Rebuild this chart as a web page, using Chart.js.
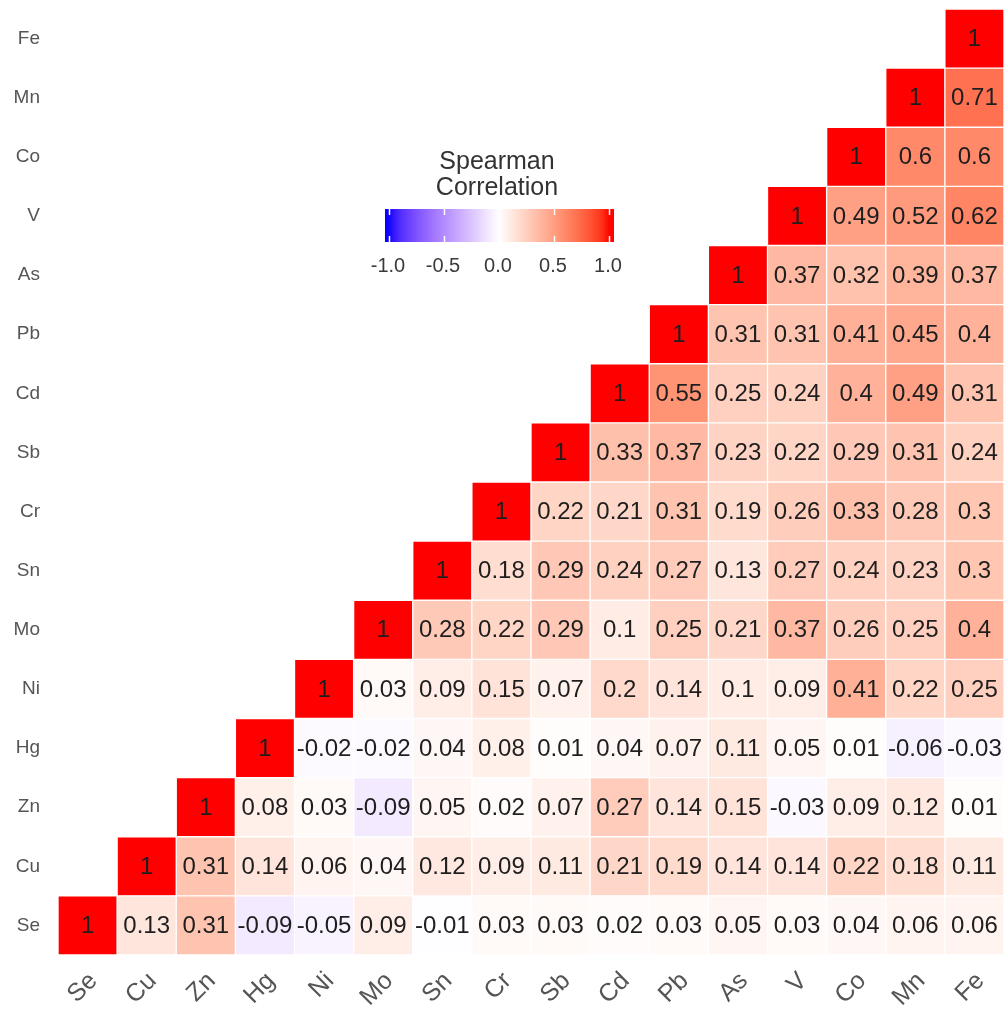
<!DOCTYPE html>
<html>
<head>
<meta charset="utf-8">
<script src="https://cdn.jsdelivr.net/npm/chart.js@4.4.1/dist/chart.umd.min.js"></script>
<style>
  html, body { margin: 0; padding: 0; background: #ffffff; }
  #wrap { width: 1008px; height: 1017px; }
</style>
</head>
<body>
<div id="wrap"><canvas id="c" width="1008" height="1017"></canvas></div>
<script>
// Element order (x axis left->right, y axis bottom->top)
const elements = ['Se','Cu','Zn','Hg','Ni','Mo','Sn','Cr','Sb','Cd','Pb','As','V','Co','Mn','Fe'];

// Spearman correlations, each row starts at its diagonal column
const rowSe = [1, 0.13, 0.31, -0.09, -0.05, 0.09, -0.01, 0.03, 0.03, 0.02, 0.03, 0.05, 0.03, 0.04, 0.06, 0.06];
const rowCu = [1, 0.31, 0.14, 0.06, 0.04, 0.12, 0.09, 0.11, 0.21, 0.19, 0.14, 0.14, 0.22, 0.18, 0.11];
const rowZn = [1, 0.08, 0.03, -0.09, 0.05, 0.02, 0.07, 0.27, 0.14, 0.15, -0.03, 0.09, 0.12, 0.01];
const rowHg = [1, -0.02, -0.02, 0.04, 0.08, 0.01, 0.04, 0.07, 0.11, 0.05, 0.01, -0.06, -0.03];
const rowNi = [1, 0.03, 0.09, 0.15, 0.07, 0.2, 0.14, 0.1, 0.09, 0.41, 0.22, 0.25];
const rowMo = [1, 0.28, 0.22, 0.29, 0.1, 0.25, 0.21, 0.37, 0.26, 0.25, 0.4];
const rowSn = [1, 0.18, 0.29, 0.24, 0.27, 0.13, 0.27, 0.24, 0.23, 0.3];
const rowCr = [1, 0.22, 0.21, 0.31, 0.19, 0.26, 0.33, 0.28, 0.3];
const rowSb = [1, 0.33, 0.37, 0.23, 0.22, 0.29, 0.31, 0.24];
const rowCd = [1, 0.55, 0.25, 0.24, 0.4, 0.49, 0.31];
const rowPb = [1, 0.31, 0.31, 0.41, 0.45, 0.4];
const rowAs = [1, 0.37, 0.32, 0.39, 0.37];
const rowV  = [1, 0.49, 0.52, 0.62];
const rowCo = [1, 0.6, 0.6];
const rowMn = [1, 0.71];
const rowFe = [1];

const rows = [rowSe, rowCu, rowZn, rowHg, rowNi, rowMo, rowSn, rowCr, rowSb, rowCd, rowPb, rowAs, rowV, rowCo, rowMn, rowFe];

const legendTitle = ['Spearman', 'Correlation'];
const legendTicks = [-1.0, -0.5, 0.0, 0.5, 1.0];

const FONT = "'Liberation Sans', Arial, Helvetica, sans-serif";

// ---- colour scale: blue - white - red, interpolated in CIE Lab ----
function toLin(c){ c/=255; return c<=0.04045 ? c/12.92 : Math.pow((c+0.055)/1.055, 2.4); }
function fromLin(c){ c = Math.max(0, Math.min(1, c)); return Math.round(255*(c<=0.0031308 ? 12.92*c : 1.055*Math.pow(c,1/2.4)-0.055)); }
function rgb2lab(r,g,b){
  const R=toLin(r),G=toLin(g),B=toLin(b);
  let X=(0.4124*R+0.3576*G+0.1805*B)/0.95047;
  let Y=(0.2126*R+0.7152*G+0.0722*B);
  let Z=(0.0193*R+0.1192*G+0.9505*B)/1.08883;
  const f=t=> t>0.008856 ? Math.cbrt(t) : 7.787*t+16/116;
  const fx=f(X),fy=f(Y),fz=f(Z);
  return [116*fy-16, 500*(fx-fy), 200*(fy-fz)];
}
function lab2rgb(L,a,b){
  const fy=(L+16)/116, fx=fy+a/500, fz=fy-b/200;
  const inv=t=> t*t*t>0.008856 ? t*t*t : (t-16/116)/7.787;
  const X=inv(fx)*0.95047, Y=inv(fy), Z=inv(fz)*1.08883;
  const R= 3.2406*X-1.5372*Y-0.4986*Z;
  const G=-0.9689*X+1.8758*Y+0.0415*Z;
  const B= 0.0557*X-0.2040*Y+1.0570*Z;
  return [fromLin(R),fromLin(G),fromLin(B)];
}
const LAB_W = rgb2lab(255,255,255), LAB_R = rgb2lab(255,0,0), LAB_B = rgb2lab(0,0,255);
function corrColor(v){
  if (v === null || v === undefined) return 'rgba(0,0,0,0)';
  v = Math.max(-1, Math.min(1, v));
  const end = v >= 0 ? LAB_R : LAB_B, t = Math.abs(v);
  const L = LAB_W[0]+(end[0]-LAB_W[0])*t, A = LAB_W[1]+(end[1]-LAB_W[1])*t, B = LAB_W[2]+(end[2]-LAB_W[2])*t;
  const c = lab2rgb(L,A,B);
  return `rgb(${c[0]},${c[1]},${c[2]})`;
}

// ---- datasets: one per row, floating bars spanning [row, row+1] ----
const datasets = rows.map((vals, i) => ({
  label: elements[i],
  data: elements.map((c, j) => j >= i ? [i, i + 1] : null),
  corr: elements.map((c, j) => j >= i ? vals[j - i] : null),
  backgroundColor: ctx => corrColor(ctx.dataset.corr[ctx.dataIndex]),
  borderColor: '#ffffff',
  borderWidth: 1,
  borderSkipped: false,
  grouped: false,
  categoryPercentage: 1,
  barPercentage: 1
}));

const cellText = {
  id: 'cellText',
  afterDatasetsDraw(chart) {
    const ctx = chart.ctx;
    ctx.save();
    ctx.font = `24px ${FONT}`;
    ctx.fillStyle = '#1e1e1e';
    ctx.textAlign = 'center';
    ctx.textBaseline = 'middle';
    chart.data.datasets.forEach((ds, di) => {
      const meta = chart.getDatasetMeta(di);
      meta.data.forEach((el, j) => {
        const v = ds.corr[j];
        if (v === null || v === undefined) return;
        const p = el.getProps(['x', 'y', 'base'], true);
        ctx.fillText(String(v), p.x, (p.y + p.base) / 2 + 1);
      });
    });
    ctx.restore();
  }
};

const xLabels = {
  id: 'xLabels',
  afterDraw(chart) {
    const ctx = chart.ctx, xs = chart.scales.x, area = chart.chartArea;
    ctx.save();
    ctx.font = `25px ${FONT}`;
    ctx.fillStyle = '#555555';
    ctx.textAlign = 'right';
    ctx.textBaseline = 'middle';
    elements.forEach((lab, i) => {
      const x = xs.getPixelForTick(i);
      ctx.save();
      ctx.translate(x + 6, area.bottom + 22);
      ctx.rotate(-Math.PI / 4);
      ctx.fillText(lab, 0, 0);
      ctx.restore();
    });
    ctx.restore();
  }
};

const colorLegend = {
  id: 'colorLegend',
  afterDraw(chart) {
    const ctx = chart.ctx;
    const cx = 499, half = 110;           // value -> pixel: cx + v*half
    const x0 = 385, x1 = 614, y0 = 209, y1 = 242;
    ctx.save();
    // title
    ctx.font = `25px ${FONT}`;
    ctx.fillStyle = '#333333';
    ctx.textAlign = 'center';
    ctx.textBaseline = 'middle';
    ctx.fillText(legendTitle[0], cx - 2, 162);
    ctx.fillText(legendTitle[1], cx - 2, 188);
    // gradient bar
    const g = ctx.createLinearGradient(x0, 0, x1, 0);
    for (let k = 0; k <= 40; k++) {
      const px = x0 + (x1 - x0) * k / 40;
      const v = (px - cx) / half;
      g.addColorStop(k / 40, corrColor(v));
    }
    ctx.fillStyle = g;
    ctx.fillRect(x0, y0, x1 - x0, y1 - y0);
    // tick marks
    ctx.strokeStyle = '#ffffff';
    ctx.lineWidth = 1.5;
    legendTicks.forEach(t => {
      const px = Math.round(cx + t * half) + 0.5;
      ctx.beginPath();
      ctx.moveTo(px, y0); ctx.lineTo(px, y0 + 6);
      ctx.moveTo(px, y1 - 6); ctx.lineTo(px, y1);
      ctx.stroke();
    });
    // tick labels
    ctx.font = `20px ${FONT}`;
    ctx.fillStyle = '#3a3a3a';
    legendTicks.forEach(t => {
      ctx.fillText(t.toFixed(1), cx + t * half - 1, 266);
    });
    ctx.restore();
  }
};

new Chart(document.getElementById('c'), {
  type: 'bar',
  data: { labels: elements, datasets },
  options: {
    responsive: false,
    animation: false,
    devicePixelRatio: 1,
    layout: { autoPadding: false, padding: { top: 9, right: 4, left: 0, bottom: 0 } },
    plugins: { legend: { display: false }, tooltip: { enabled: false } },
    scales: {
      x: {
        type: 'category',
        offset: true,
        grid: { display: false, drawTicks: false },
        border: { display: false },
        ticks: { display: false },
        afterFit(scale) { scale.height = 62; scale.paddingLeft = 0; scale.paddingRight = 0; }
      },
      y: {
        type: 'linear',
        min: 0,
        max: 16,
        grid: { display: false, drawTicks: false },
        border: { display: false },
        afterBuildTicks(scale) { scale.ticks = elements.map((e, i) => ({ value: i + 0.5 })); },
        ticks: {
          autoSkip: false,
          padding: 18,
          color: '#555555',
          font: { family: FONT, size: 19 },
          callback: (v) => elements[Math.round(v - 0.5)]
        },
        afterFit(scale) { scale.width = 58; scale.paddingTop = 0; scale.paddingBottom = 0; }
      }
    }
  },
  plugins: [cellText, xLabels, colorLegend]
});
</script>
</body>
</html>
